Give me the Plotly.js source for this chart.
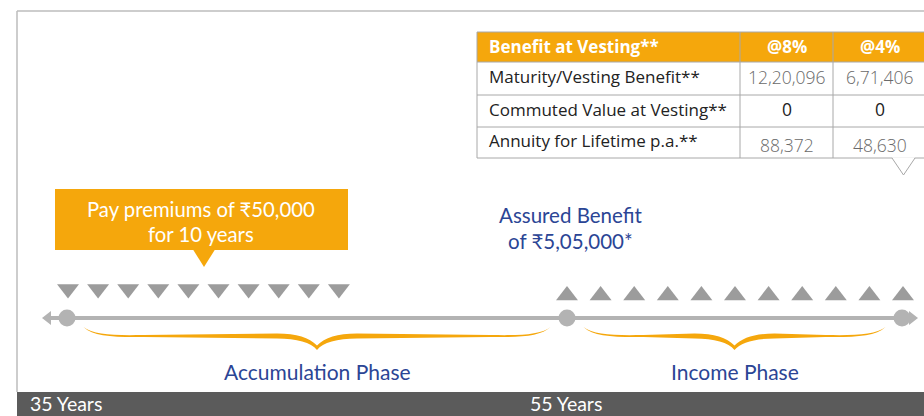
<!DOCTYPE html>
<html>
<head>
<meta charset="utf-8">
<script src="https://cdn.plot.ly/plotly-3.0.1.min.js"></script>
<style>html,body{margin:0;padding:0;background:#fff;}#chart{width:924px;height:416px;}</style>
</head>
<body>
<div id="chart"></div>
<script>
// ---------- data ----------
const milestoneAges = [35, 55, 68.4];
const milestoneLabels = ['35 Years', '55 Years'];
const timelineEnds = [34.24, 68.8];
const premiumYears = [1, 2, 3, 4, 5, 6, 7, 8, 9, 10];
const incomeYears = [1, 2, 3, 4, 5, 6, 7, 8, 9, 10, 11];
const phaseNames = ['Accumulation Phase', 'Income Phase'];
const phaseStart = [35, 55];
const phaseEnd = [55, 68.4];
const premiumAmount = 50000;
const premiumTerm = 10;
const assuredBenefit = 505000;
const tableHeader = ['Benefit at Vesting**', '@8%', '@4%'];
const rowLabels = ['Maturity/Vesting Benefit**', 'Commuted Value at Vesting**', 'Annuity for Lifetime p.a.**'];
const benefitAt8 = [1220096, 0, 88372];
const benefitAt4 = [671406, 0, 48630];

// ---------- helpers ----------
function inr(n) {
  const s = String(Math.round(n));
  if (s.length <= 3) return s;
  const last3 = s.slice(-3);
  const rest = s.slice(0, -3).replace(/\B(?=(\d{2})+(?!\d))/g, ',');
  return rest + ',' + last3;
}
const W = 924, H = 416;
const px = v => v / W;
const py = v => 1 - v / H;
const pxPerYear = 25;
const ORANGE = '#F5A70C';
const GREY = '#b3b3b3';
const TRI = '#9c9c9c';
const BLUE = '#2B4595';
const BORDER = '#a8a8a8';
const FONT = 'Lato, "Noto Sans", "DejaVu Sans", sans-serif';
const TFONT = '"Open Sans", "Noto Sans", "DejaVu Sans", sans-serif';

// ---------- traces ----------
const rowY = 293;
const lineY = 318;
const traces = [];

traces.push({
  type: 'scatter', mode: 'lines', x: timelineEnds, y: timelineEnds.map(() => lineY),
  line: {color: GREY, width: 4}, hoverinfo: 'skip', xaxis: 'x', yaxis: 'y'
});
traces.push({
  type: 'scatter', mode: 'markers', x: timelineEnds, y: timelineEnds.map(() => lineY),
  marker: {symbol: ['triangle-left', 'triangle-right'], size: 12, color: GREY},
  hoverinfo: 'skip', xaxis: 'x', yaxis: 'y'
});
traces.push({
  type: 'scatter', mode: 'markers', x: milestoneAges, y: milestoneAges.map(() => lineY),
  marker: {symbol: 'circle', size: 17, color: GREY},
  hoverinfo: 'skip', xaxis: 'x', yaxis: 'y'
});
traces.push({
  type: 'scatter', mode: 'markers', x: premiumYears, y: premiumYears.map(() => rowY - 4),
  marker: {symbol: 'triangle-down', size: 19, color: TRI},
  hoverinfo: 'skip', xaxis: 'x2', yaxis: 'y'
});
traces.push({
  type: 'scatter', mode: 'markers', x: incomeYears, y: incomeYears.map(() => rowY + 2.5),
  marker: {symbol: 'triangle-up', size: 19, color: TRI},
  hoverinfo: 'skip', xaxis: 'x3', yaxis: 'y'
});

// ---------- shapes ----------
function brace(a0, a1, color) {
  const L = a0, R = a1, M = (a0 + a1) / 2;
  const d = p => p / pxPerYear;
  const y0 = 327, yb = 335, ym = 333.5, tipT = 345.5, tipB = 350;
  const pts = [
    'M', L, y0,
    'C', L + d(10), yb, L + d(30), yb + 0.5, L + d(60), yb,
    'L', M - d(40), ym,
    'C', M - d(20), ym, M - d(8), ym + 4, M, tipT,
    'C', M + d(8), ym + 4, M + d(20), ym, M + d(40), ym,
    'L', R - d(60), yb,
    'C', R - d(30), yb + 0.5, R - d(10), yb, R, y0,
    'C', R - d(10), yb + 1.5, R - d(30), yb + 2.3, R - d(60), yb + 2,
    'L', M + d(40), ym + 5,
    'C', M + d(20), ym + 5, M + d(6), ym + 9, M, tipB,
    'C', M - d(6), ym + 9, M - d(20), ym + 5, M - d(40), ym + 5,
    'L', L + d(60), yb + 2,
    'C', L + d(30), yb + 2.3, L + d(10), yb + 1.5, L, y0,
    'Z'
  ];
  let s = '';
  for (let i = 0; i < pts.length; i++) {
    const t = pts[i];
    if (typeof t === 'string') s += t + ' ';
    else { s += t + ',' + pts[i + 1] + ' '; i++; }
  }
  return {type: 'path', xref: 'x', yref: 'y', path: s, fillcolor: color, line: {width: 0}, layer: 'below'};
}
const inset = 0.66;
const shapes = [
  {type: 'line', xref: 'paper', yref: 'paper', x0: px(17), x1: 1, y0: py(11), y1: py(11), line: {color: '#bdbdbd', width: 1.5}},
  {type: 'line', xref: 'paper', yref: 'paper', x0: px(17), x1: px(17), y0: py(11), y1: py(392), line: {color: '#bdbdbd', width: 1.5}},
  {type: 'rect', xref: 'paper', yref: 'paper', x0: px(17), x1: 1, y0: 0, y1: py(392), fillcolor: '#5b5b5b', line: {width: 0}},
  {type: 'rect', xref: 'paper', yref: 'paper', x0: px(55), x1: px(348), y0: py(250), y1: py(189), fillcolor: ORANGE, line: {width: 0}},
  {type: 'path', xref: 'paper', yref: 'paper',
   path: `M ${px(193)},${py(249.5)} L ${px(215)},${py(249.5)} L ${px(204)},${py(267)} Z`, fillcolor: ORANGE, line: {width: 0}}
];
for (let i = 0; i < phaseNames.length; i++) {
  shapes.push(brace(phaseStart[i] + inset, phaseEnd[i] - inset, ORANGE));
}

// ---------- table (built from the arrays) ----------
const colEdges = [477, 740, 833, 926];
const rowEdges = [32, 62, 95, 127, 158];
shapes.push({type: 'rect', xref: 'paper', yref: 'paper', x0: px(colEdges[0]), x1: px(colEdges[3]),
  y0: py(rowEdges[1]), y1: py(rowEdges[0]), fillcolor: ORANGE, line: {width: 0}});
rowEdges.forEach(y => shapes.push({type: 'line', xref: 'paper', yref: 'paper',
  x0: px(colEdges[0]), x1: px(colEdges[3]), y0: py(y), y1: py(y), line: {color: BORDER, width: 1}}));
colEdges.slice(0, 3).forEach(x => shapes.push({type: 'line', xref: 'paper', yref: 'paper',
  x0: px(x), x1: px(x), y0: py(rowEdges[0]), y1: py(rowEdges[4]), line: {color: BORDER, width: 1}}));
shapes.push({type: 'path', xref: 'paper', yref: 'paper',
  path: `M ${px(892)},${py(157.2)} L ${px(915)},${py(157.2)} L ${px(903.5)},${py(175)} Z`, fillcolor: '#ffffff', line: {width: 0}});
shapes.push({type: 'path', xref: 'paper', yref: 'paper',
  path: `M ${px(892)},${py(158)} L ${px(903.5)},${py(175)} L ${px(915)},${py(158)}`, line: {color: BORDER, width: 1}});

// ---------- annotations ----------
const annotations = [
  {xref: 'paper', yref: 'y', x: px(201), xanchor: 'center', y: 209, text: 'Pay premiums of ₹' + inr(premiumAmount),
   showarrow: false, font: {family: FONT, size: 20.3, color: '#ffffff'}},
  {xref: 'paper', yref: 'y', x: px(201), xanchor: 'center', y: 234, text: 'for ' + premiumTerm + ' years',
   showarrow: false, font: {family: FONT, size: 20.3, color: '#ffffff'}},
  {xref: 'x', yref: 'y', x: milestoneAges[1], xanchor: 'center', xshift: 3, y: 215, text: 'Assured Benefit',
   showarrow: false, font: {family: FONT, size: 20.5, color: BLUE}},
  {xref: 'x', yref: 'y', x: milestoneAges[1], xanchor: 'center', xshift: 3, y: 241, text: 'of ₹' + inr(assuredBenefit) + '*',
   showarrow: false, font: {family: FONT, size: 20.5, color: BLUE}}
];
for (let i = 0; i < phaseNames.length; i++) {
  annotations.push({xref: 'x', yref: 'y', x: (phaseStart[i] + phaseEnd[i]) / 2, xanchor: 'center', y: 371, text: phaseNames[i],
    showarrow: false, font: {family: FONT, size: 21, color: BLUE}});
}
for (let i = 0; i < milestoneLabels.length; i++) {
  annotations.push({xref: 'x', yref: 'y', x: milestoneAges[i], xshift: -38, xanchor: 'left', y: 403.5, borderpad: 0,
    text: milestoneLabels[i], showarrow: false, font: {family: FONT, size: 19.5, color: '#ffffff'}});
}
const colCentres = [0, 1, 2].map(i => (colEdges[i] + colEdges[i + 1]) / 2);
const rowCentres = [0, 1, 2, 3].map(i => (rowEdges[i] + rowEdges[i + 1]) / 2);
tableHeader.forEach((t, i) => annotations.push({
  xref: 'paper', yref: 'y', x: px(i === 0 ? colEdges[0] + 10 : colCentres[i]), xanchor: i === 0 ? 'left' : 'center',
  y: rowCentres[0] - 1, text: '<b>' + t + '</b>', showarrow: false,
  font: {family: TFONT, size: 17, color: '#ffffff'}
}));
rowLabels.forEach((t, r) => annotations.push({
  xref: 'paper', yref: 'y', x: px(colEdges[0] + 10), xanchor: 'left', y: rowCentres[r + 1] - 2,
  text: t, showarrow: false, font: {family: TFONT, size: 17, color: '#222222'}
}));
[benefitAt8, benefitAt4].forEach((col, c) => col.forEach((v, r) => annotations.push({
  xref: 'paper', yref: 'y', x: px(colCentres[c + 1]), xanchor: 'center',
  y: rowCentres[r + 1] - 2 + (r === 2 ? 4 : 0),
  text: inr(v), showarrow: false,
  font: {family: TFONT, size: 17.5, weight: v === 0 ? 400 : 300, color: v === 0 ? '#222222' : '#6a6a6a'}
})));

// ---------- axes ----------
const ageLo = 35 - 67 / pxPerYear, ageHi = 35 + (W - 67) / pxPerYear;
const pStep = 30.1, pStart = 68;
const iStep = 33.6, iStart = 567;
const hidden = {visible: false, fixedrange: true, showgrid: false, zeroline: false};
const layout = {
  width: W, height: H,
  margin: {l: 0, r: 0, t: 0, b: 0, pad: 0},
  paper_bgcolor: '#ffffff', plot_bgcolor: '#ffffff',
  showlegend: false,
  xaxis: Object.assign({range: [ageLo, ageHi], domain: [0, 1]}, hidden),
  xaxis2: Object.assign({overlaying: 'x', range: [1 - pStart / pStep, 1 + (W - pStart) / pStep]}, hidden),
  xaxis3: Object.assign({overlaying: 'x', range: [1 - iStart / iStep, 1 + (W - iStart) / iStep]}, hidden),
  yaxis: Object.assign({range: [H, 0], domain: [0, 1]}, hidden),
  shapes: shapes,
  annotations: annotations
};
Plotly.newPlot('chart', traces, layout, {displayModeBar: false, staticPlot: true});
</script>
</body>
</html>
